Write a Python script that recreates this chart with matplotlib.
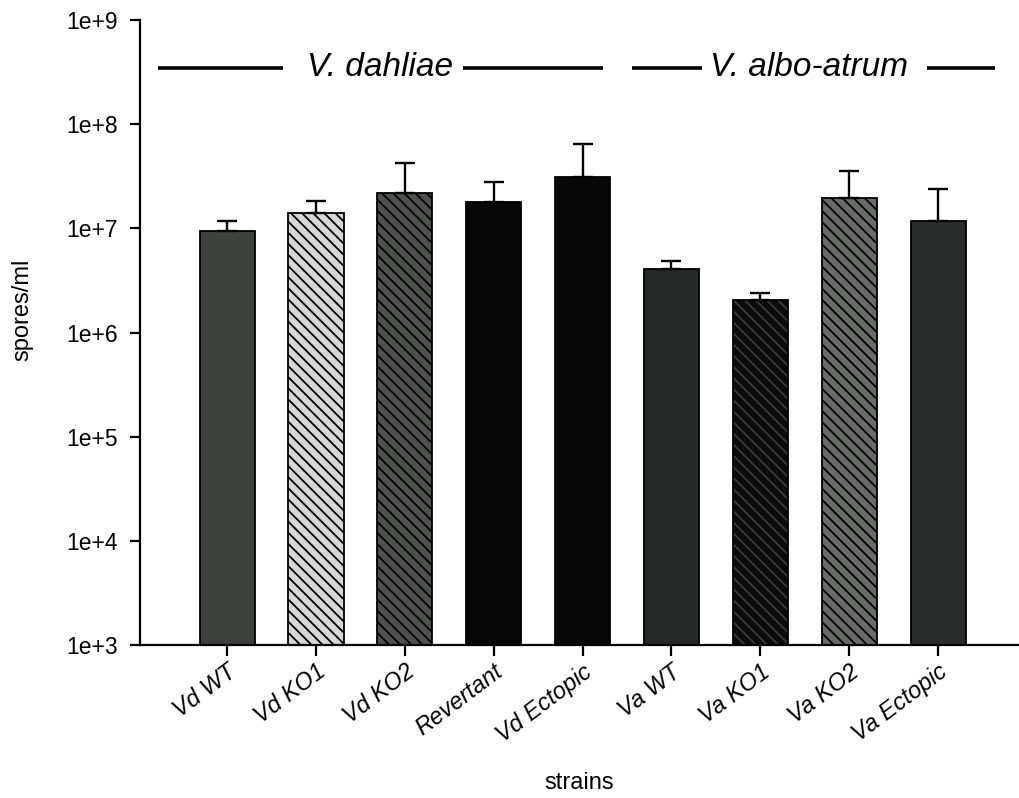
import numpy as np
import matplotlib
matplotlib.use("Agg")
import matplotlib.pyplot as plt
from matplotlib.ticker import FixedLocator, FuncFormatter, NullLocator

plt.rcParams['font.family'] = ['Liberation Sans', 'DejaVu Sans']

strains = ["Vd WT", "Vd KO1", "Vd KO2", "Revertant", "Vd Ectopic",
           "Va WT", "Va KO1", "Va KO2", "Va Ectopic"]
means = [9.4e6, 1.39e7, 2.2e7, 1.8e7, 3.1e7, 4.1e6, 2.05e6, 1.95e7, 1.17e7]
upper_err = [2.3e6, 4.6e6, 2.0e7, 1.0e7, 3.4e7, 0.75e6, 0.35e6, 1.6e7, 1.2e7]
y_ticks = [1e3, 1e4, 1e5, 1e6, 1e7, 1e8, 1e9]
group_labels = ["V. dahliae", "V. albo-atrum"]

faces = ["#3c413c", "#d6d6d6", "#4d524d", "#060606", "#070707",
         "#262a26", "#0a0a0a", "#676c67", "#2a2e2a"]
hatches = [None, "\\\\\\", "\\\\\\", None, None, None, "\\\\\\", "\\\\\\", None]
hatch_cols = [None, "black", "black", None, None, None, "#3a3a3a", "black", None]

plt.rcParams['hatch.linewidth'] = 1.3

fig = plt.figure(figsize=(10.19, 7.98), dpi=100)
ax = fig.add_axes([140/1019, 1-645/798, 879/1019, 625/798])

x = np.arange(len(strains))
w = 0.62
for i in range(len(strains)):
    if hatches[i]:
        ax.bar(x[i], means[i], width=w, color=faces[i], edgecolor=hatch_cols[i],
               hatch=hatches[i], linewidth=0, zorder=2)
        ax.bar(x[i], means[i], width=w, fill=False, edgecolor="black",
               linewidth=1.3, zorder=3)
    else:
        ax.bar(x[i], means[i], width=w, color=faces[i], edgecolor="black",
               linewidth=1.3, zorder=2)

ax.errorbar(x, means, yerr=[np.zeros(len(means)), upper_err], fmt='none',
            ecolor='black', elinewidth=1.7, capsize=7, capthick=1.7, zorder=4)

ax.set_yscale('log')
ax.set_ylim(1e3, 1e9)
ax.yaxis.set_major_locator(FixedLocator(y_ticks))
ax.yaxis.set_minor_locator(NullLocator())
ax.yaxis.set_major_formatter(FuncFormatter(lambda v, p: "1e+%d" % round(np.log10(v))))
ax.set_xlim(-0.98, 8.91)
ax.set_xticks(x)
ax.set_xticklabels(strains, rotation=37, ha='right', rotation_mode='anchor',
                   fontsize=17)
for lab in ax.get_xticklabels():
    lab.set_style('italic')

for s in ['top', 'right']:
    ax.spines[s].set_visible(False)
for s in ['left', 'bottom']:
    ax.spines[s].set_linewidth(1.6)
ax.tick_params(axis='y', length=7, width=1.6, labelsize=16.5, pad=9)
ax.tick_params(axis='x', length=8, width=1.6, pad=3)

ax.set_xlabel("strains", fontsize=17, labelpad=18)
ax.set_ylabel("spores/ml", fontsize=17)
ax.yaxis.set_label_coords(-0.121, 0.536)

# group header with lines
ly = 0.924
for (x0, x1) in [(0.0205, 0.163), (0.3675, 0.527), (0.560, 0.639), (0.895, 0.973)]:
    ax.plot([x0, x1], [ly, ly], transform=ax.transAxes, color='black', lw=2.6,
            clip_on=False, solid_capstyle='butt')
ax.text(0.190, ly, group_labels[0], transform=ax.transAxes, fontsize=24,
        style='italic', va='center', ha='left')
ax.text(0.648, ly, group_labels[1], transform=ax.transAxes, fontsize=24,
        style='italic', va='center', ha='left')

fig.savefig("out.png", dpi=100)
